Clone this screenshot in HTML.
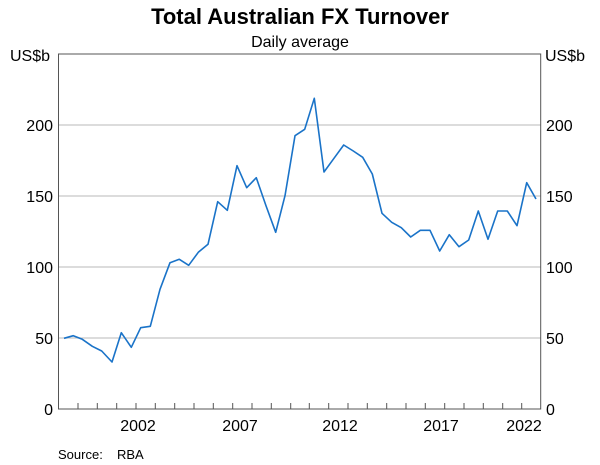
<!DOCTYPE html>
<html><head><meta charset="utf-8"><style>
html,body{margin:0;padding:0;background:#fff;}
svg{display:block;font-family:"Liberation Sans",Arial,sans-serif;}
</style></head><body>
<svg width="600" height="465" viewBox="0 0 600 465" xmlns="http://www.w3.org/2000/svg">
<text x="300" y="24" text-anchor="middle" font-size="22" font-weight="bold">Total Australian FX Turnover</text>
<text x="300" y="47" text-anchor="middle" font-size="16">Daily average</text>
<text x="10" y="61" font-size="16">US$b</text>
<text x="545" y="61" font-size="16">US$b</text>
<g stroke="#c8c8c8" stroke-width="1.2">
<line x1="58.5" y1="125" x2="540.7" y2="125"/>
<line x1="58.5" y1="196" x2="540.7" y2="196"/>
<line x1="58.5" y1="267" x2="540.7" y2="267"/>
<line x1="58.5" y1="338" x2="540.7" y2="338"/>
</g>
<rect x="58.5" y="54" width="482.2" height="355" fill="none" stroke="#555" stroke-width="1"/>
<g stroke="#555" stroke-width="1">
<line x1="78" y1="409" x2="78" y2="403"/><line x1="97.3" y1="409" x2="97.3" y2="403"/><line x1="116.7" y1="409" x2="116.7" y2="403"/><line x1="136" y1="409" x2="136" y2="403"/><line x1="155.3" y1="409" x2="155.3" y2="403"/><line x1="174.7" y1="409" x2="174.7" y2="403"/><line x1="194" y1="409" x2="194" y2="403"/><line x1="213.3" y1="409" x2="213.3" y2="403"/><line x1="232.7" y1="409" x2="232.7" y2="403"/><line x1="252" y1="409" x2="252" y2="403"/><line x1="271.3" y1="409" x2="271.3" y2="403"/><line x1="290.7" y1="409" x2="290.7" y2="403"/><line x1="309.3" y1="409" x2="309.3" y2="403"/><line x1="328.7" y1="409" x2="328.7" y2="403"/><line x1="348" y1="409" x2="348" y2="403"/><line x1="367.3" y1="409" x2="367.3" y2="403"/><line x1="386.7" y1="409" x2="386.7" y2="403"/><line x1="406" y1="409" x2="406" y2="403"/><line x1="425.3" y1="409" x2="425.3" y2="403"/><line x1="444.7" y1="409" x2="444.7" y2="403"/><line x1="464" y1="409" x2="464" y2="403"/><line x1="483.3" y1="409" x2="483.3" y2="403"/><line x1="502.7" y1="409" x2="502.7" y2="403"/><line x1="521.7" y1="409" x2="521.7" y2="403"/>
</g>
<g font-size="16" text-anchor="end">
<text x="53" y="131">200</text><text x="53" y="202">150</text><text x="53" y="273">100</text><text x="53" y="344">50</text><text x="53" y="415">0</text>
</g>
<g font-size="16" text-anchor="start">
<text x="546" y="131">200</text><text x="546" y="202">150</text><text x="546" y="273">100</text><text x="546" y="344">50</text><text x="546" y="415">0</text>
</g>
<g font-size="16" text-anchor="middle">
<text x="138" y="431">2002</text><text x="240" y="431">2007</text><text x="340" y="431">2012</text><text x="441" y="431">2017</text><text x="524" y="431">2022</text>
</g>
<text x="58" y="459" font-size="13">Source:</text>
<text x="117" y="459" font-size="13">RBA</text>
<polyline fill="none" stroke="#1a73c8" stroke-width="1.6" stroke-linejoin="round" points="64,338.3 73.3,335.7 82.3,339.3 92.3,346.3 101.7,351 112,362 121.3,332.7 131.3,347.3 140.7,327.7 150.3,326.3 160,289.3 170,262.7 179.3,259.3 188.7,265.3 198.3,252.3 208,244.3 217.7,201.7 227.3,210.3 237,165.7 246.7,187.7 256.3,177.7 266,205.7 275.7,232.3 285,195.7 295,135.7 304.7,129.3 314.3,98.3 324,172 333.7,158.7 343.7,145 353.3,151 362.7,157.3 372.3,174 382,213.3 391.7,222.3 401.3,227.7 410.7,237 420.3,230.3 430,230.3 439.7,251 449.3,234.7 459,246.7 468.7,240 478.3,211 488,239.3 497.7,211 507.3,211 517,225.7 526.7,182.7 536,199"/>
</svg>
</body></html>
